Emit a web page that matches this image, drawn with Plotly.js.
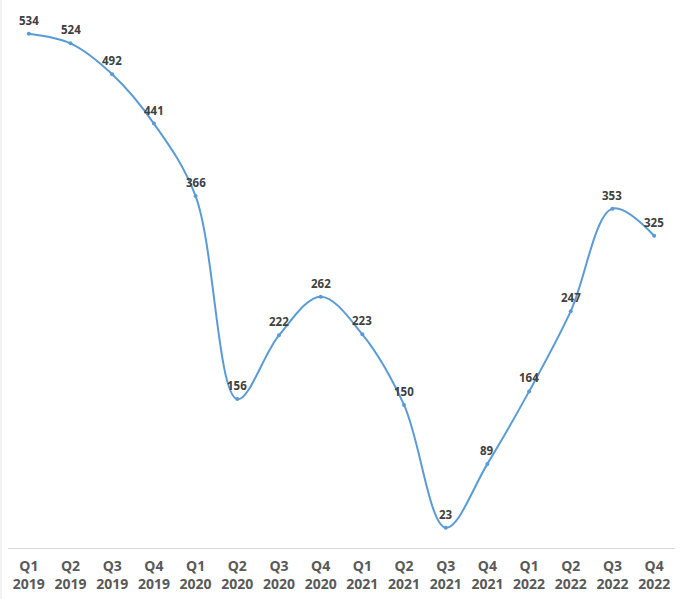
<!DOCTYPE html>
<html>
<head>
<meta charset="utf-8">
<script src="https://cdn.plot.ly/plotly-3.0.1.min.js"></script>
<style>html,body{margin:0;padding:0;background:#fff;}#chart{width:680px;height:599px;}</style>
</head>
<body>
<div id="chart"></div>
<script>
var quarters = ["Q1","Q2","Q3","Q4","Q1","Q2","Q3","Q4","Q1","Q2","Q3","Q4","Q1","Q2","Q3","Q4"];
var years = ["2019","2019","2019","2019","2020","2020","2020","2020","2021","2021","2021","2021","2022","2022","2022","2022"];
var values = [534, 524, 492, 441, 366, 156, 222, 262, 223, 150, 23, 89, 164, 247, 353, 325];

var categories = quarters.map(function(q, i){ return q + "<br>" + years[i]; });

var trace = {
  x: categories,
  y: values,
  type: "scatter",
  mode: "lines+markers",
  line: {shape: "spline", smoothing: 1.0, color: "#5b9bd5", width: 2},
  marker: {size: 4, color: "#5b9bd5"},
  cliponaxis: false,
  hoverinfo: "none"
};

var annotations = values.map(function(v, i){
  return {
    x: categories[i], y: v, xref: "x", yref: "y",
    text: String(v), showarrow: false,
    yanchor: "bottom", yshift: 4,
    font: {family: "Open Sans, Noto Sans, sans-serif", size: 11.5, color: "#404040", weight: "bold"}
  };
});

var layout = {
  width: 680,
  height: 599,
  margin: {l: 8, r: 5, t: 10, b: 51},
  paper_bgcolor: "#ffffff",
  plot_bgcolor: "#ffffff",
  showlegend: false,
  annotations: annotations,
  xaxis: {
    type: "category",
    range: [-0.5, 15.5],
    showgrid: false,
    zeroline: false,
    showline: true,
    linecolor: "#d9d9d9",
    linewidth: 1,
    ticks: "",
    ticklabelstandoff: 5,
    tickfont: {family: "Open Sans, Noto Sans, sans-serif", size: 14, color: "#595959", weight: "bold"},
    fixedrange: true
  },
  yaxis: {
    range: [2, 558.5],
    showgrid: false,
    zeroline: false,
    showline: false,
    showticklabels: false,
    ticks: "",
    fixedrange: true
  },
  shapes: [{
    type: "line", xref: "paper", yref: "paper",
    x0: -7/667, x1: -7/667, y0: -51/538, y1: 1 + 10/538,
    line: {color: "#e6e6e6", width: 1}
  }]
};

Plotly.newPlot("chart", [trace], layout, {staticPlot: true, displayModeBar: false});
</script>
</body>
</html>
